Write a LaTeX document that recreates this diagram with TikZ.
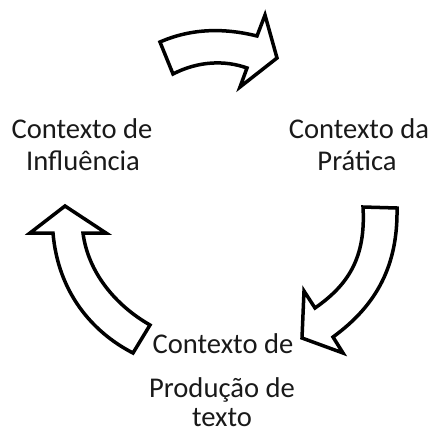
\documentclass[tikz,border=0pt]{standalone}
\usepackage{fontspec}
\setmainfont{Carlito}
\begin{document}
\begin{tikzpicture}[x=1pt,y=-1pt,
  arrowshape/.style={draw=black,line width=3.5pt,line join=miter,fill=white},
  lbl/.style={anchor=base,inner sep=0pt,font=\fontsize{28.6}{33}\selectfont,text=black!90}]
\useasboundingbox (0,0) rectangle (433,432);
% top arrow (Influencia -> Pratica)
\draw[arrowshape] (160,42) .. controls (192,28) and (225,28) .. (257,36)
  -- (265,15) -- (277,58) -- (240,87) -- (247,68)
  .. controls (225,60) and (198,61) .. (173,74) -- cycle;
% right arrow (Pratica -> Producao)
\draw[arrowshape] (363,207) .. controls (366,258) and (348,285) .. (315,308)
  -- (304,291) -- (302,338) -- (343,353) -- (333,337)
  .. controls (377,305) and (398,265) .. (397,208) -- cycle;
% left arrow (Producao -> Influencia)
\draw[arrowshape] (150,325) .. controls (115,305) and (88,272) .. (83,233)
  -- (106,233) -- (65,206) -- (30,233) -- (53,233)
  .. controls (58,292) and (92,332) .. (133,353) -- cycle;
% labels
\node[lbl] (inf1) at (82,138) {Contexto de};
\node[lbl] (inf2) at (83,170) {Influência};
\node[lbl] (pra1) at (359,138) {Contexto da};
\node[lbl] (pra2) at (357,170) {Prática};
\node[lbl] (pro1) at (223,353) {Contexto de};
\node[lbl] (pro2) at (222,397) {Produção de};
\node[lbl] (pro3) at (222,426) {texto};
\end{tikzpicture}
\end{document}
